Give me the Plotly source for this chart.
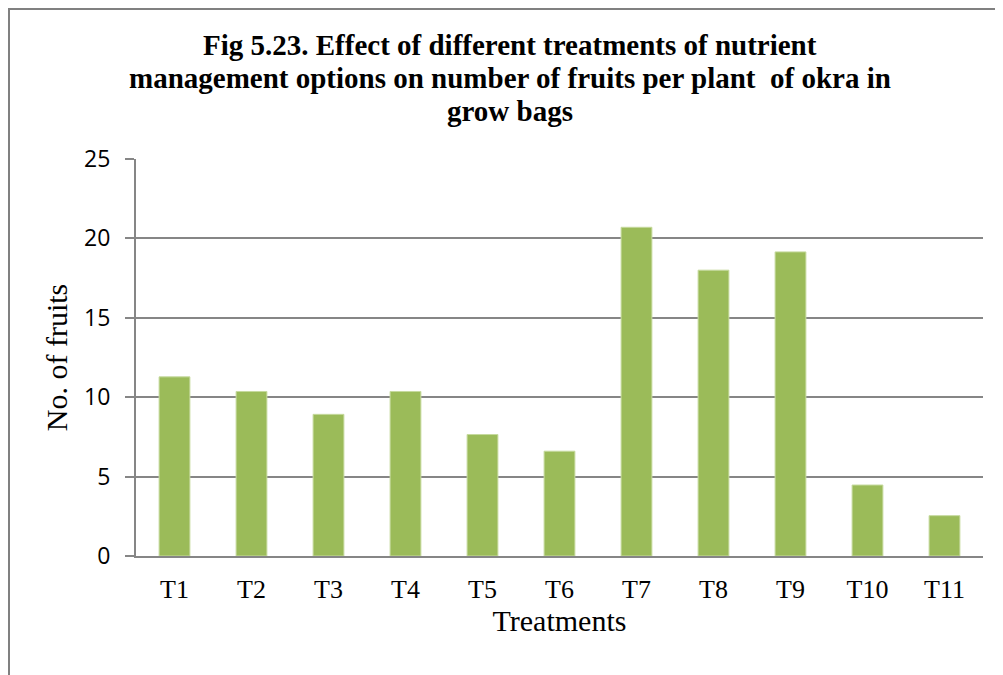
import plotly.graph_objects as go

treatments = ["T1", "T2", "T3", "T4", "T5", "T6", "T7", "T8", "T9", "T10", "T11"]
fruits = [11.28, 10.36, 8.92, 10.36, 7.65, 6.6, 20.7, 18.0, 19.15, 4.47, 2.54]

title_lines = [
    "Fig 5.23. Effect of different treatments of nutrient",
    "management options on number of fruits per plant  of okra in",
    "grow bags",
]

# page has an 8px body margin, so the figure is 8px smaller than the window
W, H = 995, 667
L, R, T, B = 128, 20, 151, 119
pw, ph = W - L - R, H - T - B

fig = go.Figure()
fig.add_trace(go.Bar(
    x=treatments,
    y=fruits,
    marker=dict(color="#9BBB59", line=dict(color="#C6DA9E", width=1)),
    showlegend=False,
))

# title lines placed one by one to get Word-like line spacing
title_y = [37, 70, 103]
annotations = []
for line, yy in zip(title_lines, title_y):
    annotations.append(dict(
        text=line, xref="paper", yref="paper",
        x=(502 - L) / pw, y=1 + (T - yy) / ph,
        xanchor="center", yanchor="middle", showarrow=False,
        font=dict(family="Liberation Serif", size=29, color="black", weight="bold"),
    ))

fig.update_layout(
    width=W,
    height=H,
    margin=dict(l=L, r=R, t=T, b=B, autoexpand=False),
    paper_bgcolor="white",
    plot_bgcolor="white",
    bargap=0.6,
    annotations=annotations,
    shapes=[
        dict(type="line", xref="paper", yref="paper",
             x0=-L / pw, x1=1 + (R - 1) / pw, y0=1 + (T - 1) / ph, y1=1 + (T - 1) / ph,
             line=dict(color="#808080", width=2)),
        dict(type="line", xref="paper", yref="paper",
             x0=(1 - L) / pw, x1=(1 - L) / pw, y0=1 + (T - 1) / ph, y1=-B / ph,
             line=dict(color="#808080", width=2)),
    ],
)

fig.update_xaxes(
    showline=True, linecolor="#868686", linewidth=2,
    ticks="", ticklabelstandoff=9,
    tickfont=dict(family="Liberation Serif", size=26, color="black"),
    title=dict(text="Treatments", standoff=5,
               font=dict(family="Liberation Serif", size=30, color="black")),
)
fig.update_yaxes(
    range=[0, 25], dtick=5,
    showline=True, linecolor="#868686", linewidth=2,
    showgrid=True, gridcolor="#868686", gridwidth=1.5,
    ticks="outside", ticklen=9, tickcolor="#868686", tickwidth=1.5,
    ticklabelstandoff=10,
    tickfont=dict(family="Open Sans", size=23, color="black"),
    title=dict(text="No. of fruits", standoff=8,
               font=dict(family="Liberation Serif", size=30, color="black")),
    zeroline=False,
)

fig.write_html("out.html")
